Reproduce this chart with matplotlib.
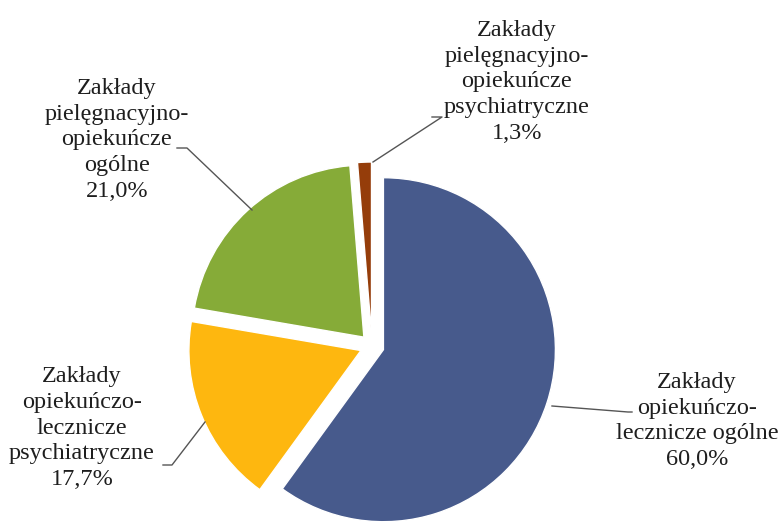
import matplotlib.pyplot as plt

# data
labels = [
    "Zakłady\nopiekuńczo-\nlecznicze ogólne\n60,0%",
    "Zakłady\nopiekuńczo-\nlecznicze\npsychiatryczne\n17,7%",
    "Zakłady\npielęgnacyjno-\nopiekuńcze\nogólne\n21,0%",
    "Zakłady\npielęgnacyjno-\nopiekuńcze\npsychiatryczne\n1,3%",
]
shares = [60.0, 17.7, 21.0, 1.3]
colors = ["#475a8c", "#feb70f", "#86ab38", "#953d0a"]

# label text centres and leader line points (pixels, y up)
H = 522
label_pos = [(697, H - 421), (82, H - 428), (117, H - 140), (517, H - 82)]
leaders = [
    [(552, H - 406), (628, H - 412), (632, H - 412)],
    [(205, H - 422), (172, H - 465), (163, H - 465)],
    [(252, H - 210), (187, H - 148), (177, H - 148)],
    [(373, H - 162), (442, H - 117), (432, H - 117)],
]

fig = plt.figure(figsize=(7.83, 5.22), dpi=100)
ax = fig.add_axes([0, 0, 1, 1])

ax.pie(shares, colors=colors, startangle=90, counterclock=False,
       center=(372, H - 346), radius=172, explode=[12] * 4,
       wedgeprops=dict(edgecolor="white", linewidth=1.0))

# pie() resets the limits, so put the pixel frame back afterwards
ax.set_aspect("auto")
ax.set_xlim(0, 783)
ax.set_ylim(0, H)
ax.axis("off")

for (x, y), txt in zip(label_pos, labels):
    ax.text(x, y, txt, ha="center", va="center", fontsize=17.5,
            family="Liberation Serif", color="#1e1e1e", linespacing=1.3)

for pts in leaders:
    xs, ys = zip(*pts)
    ax.plot(xs, ys, color="#555555", linewidth=1.0)

fig.savefig("out.png", dpi=100)
